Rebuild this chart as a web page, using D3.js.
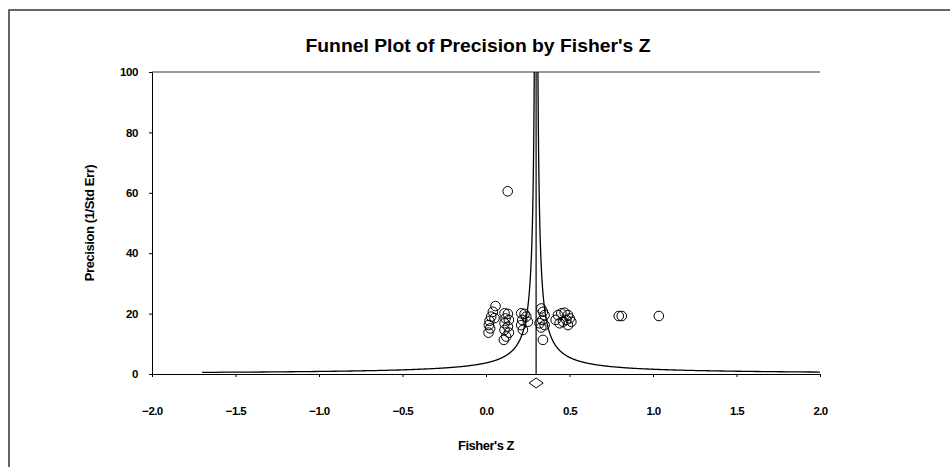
<!DOCTYPE html>
<html>
<head>
<meta charset="utf-8">
<script src="https://cdn.jsdelivr.net/npm/d3@7"></script>
<style>
  body { margin: 0; background: #fff; }
  svg { display: block; font-family: "Liberation Sans", Arial, sans-serif; }
</style>
</head>
<body>
<svg id="chart" width="950" height="467"></svg>
<script>
// Fisher's Z of each study and its precision (1/SE)
const studyZ = [
  0.057, 0.041, 0.031, 0.021, 0.017, 0.025, 0.015, 0.051,
  0.111, 0.131, 0.117, 0.137, 0.111, 0.131, 0.111, 0.137, 0.107, 0.121,
  0.211, 0.231, 0.241, 0.217, 0.211, 0.221, 0.251,
  0.341, 0.331, 0.351, 0.337, 0.321, 0.351, 0.331, 0.341,
  0.431, 0.451, 0.471, 0.491, 0.501, 0.481, 0.461, 0.441, 0.417, 0.511, 0.491,
  0.130, 0.795, 0.813, 1.035
];
const studyPrecision = [
  22.5, 20.6, 19.0, 17.6, 16.2, 15.1, 13.7, 18.5,
  20.1, 19.9, 18.4, 17.9, 16.8, 15.7, 14.6, 13.7, 11.3, 12.4,
  20.1, 19.9, 19.0, 17.9, 16.2, 14.6, 17.3,
  20.6, 21.7, 19.5, 17.9, 16.8, 16.2, 15.4, 11.3,
  19.5, 20.1, 20.3, 19.5, 18.4, 17.9, 17.3, 16.8, 17.9, 17.3, 16.2,
  60.5, 19.2, 19.2, 19.2
];
const pooledZ = 0.30;
const pooledLow = 0.258;
const pooledHigh = 0.342;
const funnelWidth = 1.1;      // half-width of funnel = funnelWidth / precision
const funnelMinPrecision = 0.55;
const xTicks = [-2.0, -1.5, -1.0, -0.5, 0.0, 0.5, 1.0, 1.5, 2.0];
const yTicks = [0, 20, 40, 60, 80, 100];

const svg = d3.select('#chart');
const plotLeft = 152, plotRight = 820, plotTop = 72, plotBottom = 374;

const x = d3.scaleLinear().domain([-2, 2]).range([plotLeft, plotRight]);
const y = d3.scaleLinear().domain([0, 100]).range([plotBottom, plotTop]);

// outer frame (page border)
svg.append('path')
  .attr('d', 'M9,467 L9,10 L950,10')
  .attr('fill', 'none')
  .attr('stroke', '#333')
  .attr('stroke-width', 1.5);

svg.append('text')
  .attr('x', 478).attr('y', 52)
  .attr('text-anchor', 'middle')
  .attr('font-weight', 'bold')
  .attr('font-size', 18)
  .attr('textLength', 345)
  .attr('lengthAdjust', 'spacingAndGlyphs')
  .text("Funnel Plot of Precision by Fisher's Z");

// clip for funnel
svg.append('defs').append('clipPath').attr('id', 'plotclip')
  .append('rect')
  .attr('x', plotLeft).attr('y', plotTop)
  .attr('width', plotRight - plotLeft).attr('height', plotBottom - plotTop);

// top border
svg.append('line')
  .attr('x1', plotLeft).attr('x2', plotRight)
  .attr('y1', plotTop).attr('y2', plotTop)
  .attr('stroke', '#777').attr('stroke-width', 1.5);

// y axis
const yAxis = svg.append('g')
  .attr('transform', `translate(${plotLeft},0)`)
  .call(d3.axisLeft(y).tickValues(yTicks).tickSize(3).tickFormat(d3.format('d')));
yAxis.select('.domain').attr('stroke', '#000');
yAxis.selectAll('text')
  .attr('font-size', 11.5).attr('font-weight', 'bold')
  .attr('font-family', '"Liberation Sans", Arial, sans-serif')
  .attr('letter-spacing', -0.4)
  .attr('x', -14);

// x axis
const xAxis = svg.append('g')
  .attr('transform', `translate(0,${plotBottom})`)
  .call(d3.axisBottom(x).tickValues(xTicks).tickSize(3).tickSizeOuter(0).tickFormat(d3.format('.1f')));
xAxis.select('.domain').attr('stroke', '#000');
xAxis.selectAll('text')
  .attr('font-size', 11.5).attr('font-weight', 'bold')
  .attr('font-family', '"Liberation Sans", Arial, sans-serif')
  .attr('letter-spacing', -0.6)
  .attr('y', 33);

svg.append('text')
  .attr('transform', `translate(94,${(plotTop + plotBottom) / 2}) rotate(-90)`)
  .attr('text-anchor', 'middle')
  .attr('font-size', 13).attr('font-weight', 'bold')
  .attr('letter-spacing', -0.4)
  .text('Precision (1/Std Err)');

svg.append('text')
  .attr('x', 486).attr('y', 450)
  .attr('text-anchor', 'middle')
  .attr('font-size', 13).attr('font-weight', 'bold')
  .attr('letter-spacing', -0.5)
  .text("Fisher's Z");

// funnel
const plot = svg.append('g').attr('clip-path', 'url(#plotclip)');
const precisions = d3.range(funnelMinPrecision, 100.01, 0.02);
const funnelLine = d3.line().x(d => x(d[0])).y(d => y(d[1]));
[-1, 1].forEach(s => {
  plot.append('path')
    .datum(precisions.map(p => [pooledZ + s * funnelWidth / p, p]))
    .attr('d', funnelLine)
    .attr('fill', 'none')
    .attr('stroke', '#000')
    .attr('stroke-width', 1.3);
});
plot.append('line')
  .attr('x1', x(pooledZ)).attr('x2', x(pooledZ))
  .attr('y1', y(0)).attr('y2', y(100))
  .attr('stroke', '#000').attr('stroke-width', 1.2);

// studies
svg.append('g').selectAll('circle')
  .data(studyZ.map((z, i) => [z, studyPrecision[i]]))
  .join('circle')
  .attr('cx', d => x(d[0]))
  .attr('cy', d => y(d[1]))
  .attr('r', 4.8)
  .attr('fill', 'none')
  .attr('stroke', '#000')
  .attr('stroke-width', 1);

// summary diamond
const dy = plotBottom + 9;
svg.append('path')
  .attr('d', `M${x(pooledLow)},${dy} L${x(pooledZ)},${dy - 5} L${x(pooledHigh)},${dy} L${x(pooledZ)},${dy + 5} Z`)
  .attr('fill', '#fff')
  .attr('stroke', '#000')
  .attr('stroke-width', 1);
</script>
</body>
</html>
